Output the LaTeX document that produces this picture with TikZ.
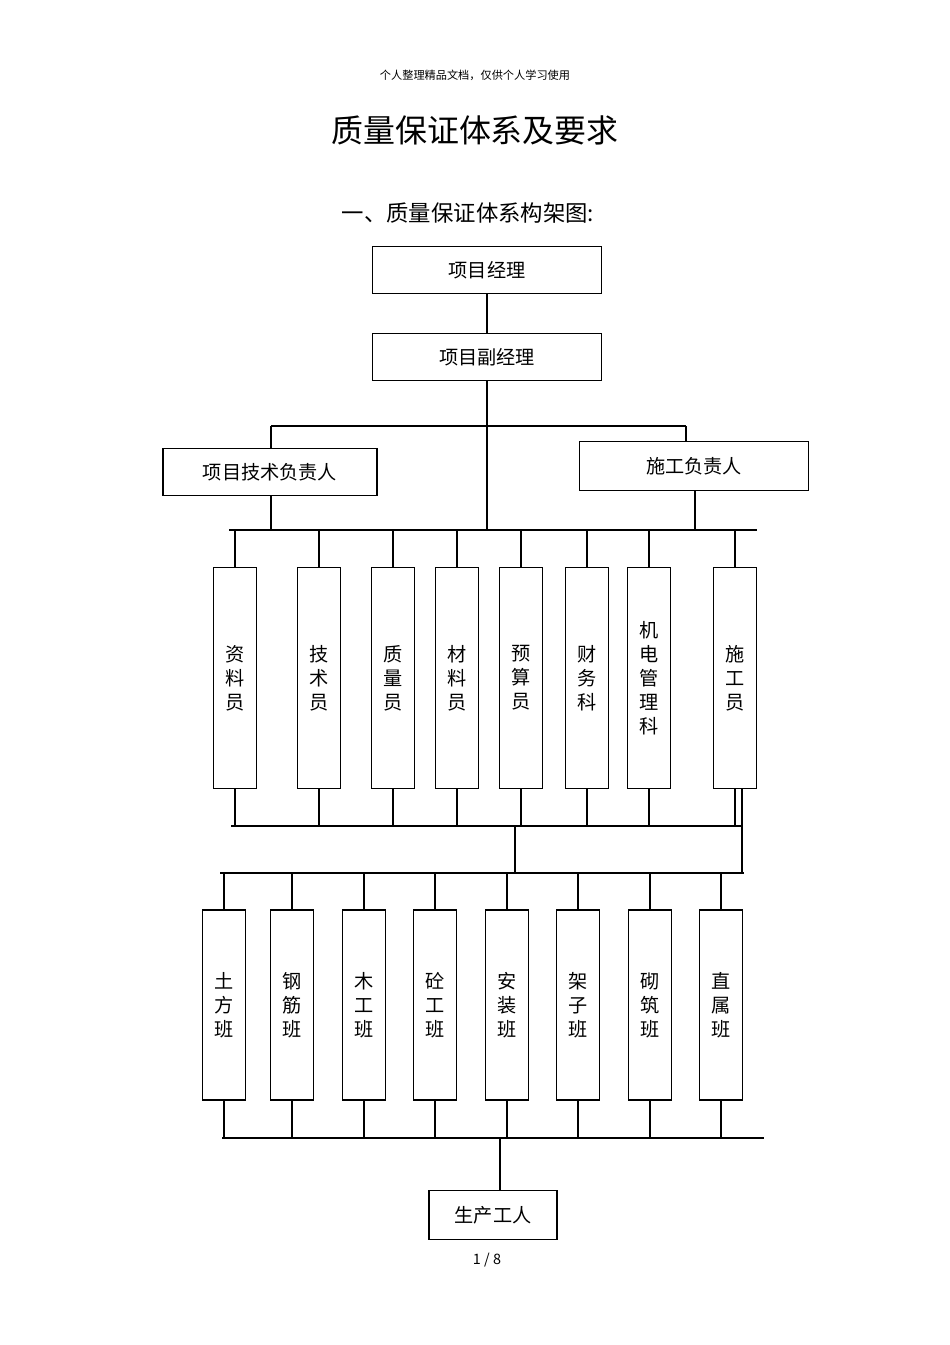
\documentclass[tikz,border=0pt]{standalone}
\usepackage{fontspec}
\setmainfont{Noto Sans CJK SC}
\begin{document}
\begin{tikzpicture}[x=0.626pt,y=-0.626pt,
  bx/.style={draw,line width=0.8pt,inner sep=0pt,font=\fontsize{12}{14}\selectfont},
  col/.style={draw,line width=0.8pt,inner sep=0pt,minimum width=26.5pt,minimum height=138pt,align=center,font=\fontsize{12}{15}\selectfont},
  ln/.style={line width=0.8pt}]
\useasboundingbox (0,0) rectangle (950,1345);
\node (hd) at (475,75) {\fontsize{7}{8}\selectfont 个人整理精品文档，仅供个人学习使用};
\node (tt) at (475,130) {\fontsize{20}{24}\selectfont 质量保证体系及要求};
\node (st) at (468,213) {\fontsize{14}{16}\selectfont 一、质量保证体系构架图:};
\node[bx,minimum width=143pt,minimum height=29pt] (pm) at (487,270) {项目经理};
\node[bx,minimum width=143pt,minimum height=29pt] (dpm) at (487,357) {项目副经理};
\node[bx,minimum width=134pt,minimum height=29pt] (tech) at (270,472) {项目技术负责人};
\node[bx,minimum width=143pt,minimum height=31pt] (con) at (694,466) {施工负责人};
\node[bx,minimum width=80pt,minimum height=31pt] (wk) at (493,1215) {生产工人};
\node (pg) at (487,1260) {\fontsize{9}{10}\selectfont 1 / 8};
\draw[ln] (pm) -- (dpm);
\coordinate (j1) at (487,426); \coordinate (j2) at (487,530);
\draw[ln] (dpm) -- (j2);
\draw[ln] (271,426) -- (686,426);
\draw[ln] (271,426) -- (tech.north -| 271,0);
\draw[ln] (686,426) -- (con.north -| 686,0);
\draw[ln] (tech.south -| 271,0) -- (271,530);
\draw[ln] (con.south -| 695,0) -- (695,530);
\draw[ln] (229,530) -- (757,530);
% top row
\foreach \n/\x/\t [count=\i] in {a/235/资\\料\\员, b/319/技\\术\\员, c/393/质\\量\\员, d/457/材\\料\\员, e/521/预\\算\\员, f/587/财\\务\\科, g/649/机\\电\\管\\理\\科, h/735/施\\工\\员}{
  \node[col] (\n) at (\x,678) {\t};
  \draw[ln] (\x,530) -- (\n.north);
  \draw[ln] (\n.south) -- (\x,826);
}
\draw[ln] (231,826) -- (742,826);
\draw[ln] (515,826) -- (515,873);
\draw[ln] (742,789) -- (742,873);
\draw[ln] (220,873) -- (744,873);
% bottom row
\foreach \n/\x/\t in {p/224/土\\方\\班, q/292/钢\\筋\\班, r/364/木\\工\\班, s/435/砼\\工\\班, t/507/安\\装\\班, u/578/架\\子\\班, v/650/砌\\筑\\班, w/721/直\\属\\班}{
  \node[col,minimum height=119pt] (\n) at (\x,1005) {\t};
  \draw[ln] (\x,873) -- (\n.north);
  \draw[ln] (\n.south) -- (\x,1138);
}
\draw[ln] (222,1138) -- (764,1138);
\draw[ln] (500,1138) -- (wk.north -| 500,0);
\end{tikzpicture}
\end{document}
